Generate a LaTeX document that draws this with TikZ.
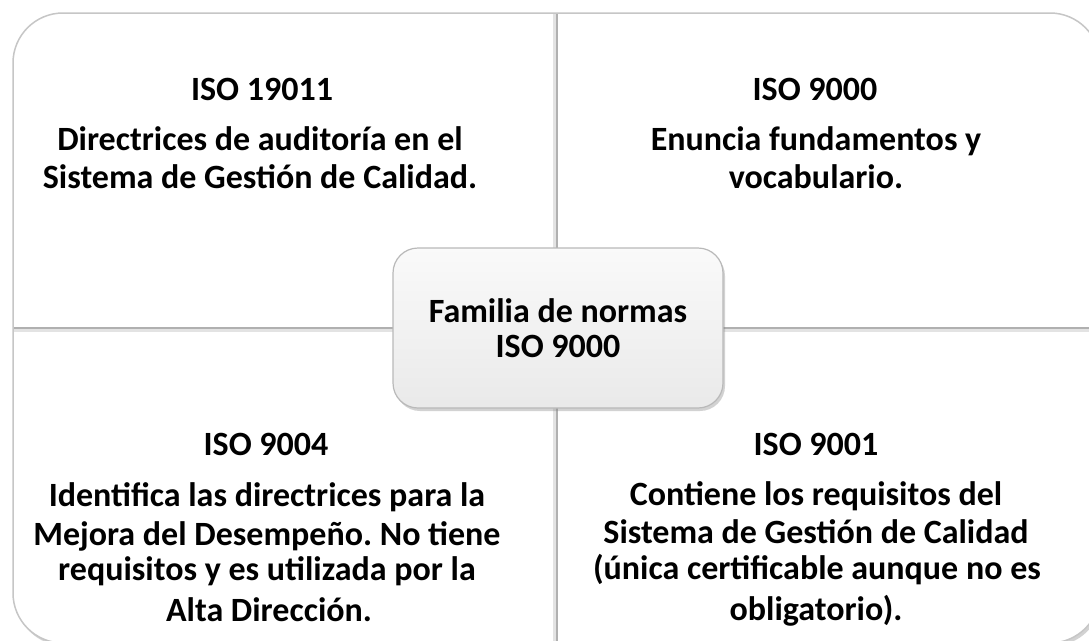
\documentclass[tikz,border=0pt]{standalone}
\usepackage{fontspec}
\setmainfont{Carlito}
\usetikzlibrary{shadows}
\frenchspacing
\begin{document}
\begin{tikzpicture}[x=1pt,y=-1pt,
  txt/.style={anchor=base, inner sep=0pt, text=black,
    font=\fontsize{34}{40}\selectfont\bfseries},
  outerbox/.style={fill=white, draw=gray!45, line width=1.5pt, rounded corners=50pt,
    drop shadow={opacity=.35, shadow xshift=2pt, shadow yshift=-3pt}},
  dividerlight/.style={draw=gray!22, line width=3pt},
  divider/.style={draw=gray!62, line width=1.6pt},
  centerbox/.style={draw=gray!55, line width=1.2pt, rounded corners=25pt,
    top color=gray!4, bottom color=gray!17, minimum width=330pt, minimum height=160pt,
    align=center, inner sep=0pt, text=black,
    font=\fontsize{34}{35}\selectfont\bfseries,
    drop shadow={opacity=.35, shadow xshift=2pt, shadow yshift=-3pt}}
]
\useasboundingbox (0,0) rectangle (1089,640);
\fill[white] (0,0) rectangle (1089,640);
\clip (0,0) rectangle (1089,640);

% outer frame of the four quadrants
\path[outerbox] (13,13) rectangle (1100,643);

% dividers
\coordinate (vtop) at (557,14);
\coordinate (vbot) at (557,642);
\coordinate (hleft) at (14,328);
\coordinate (hright) at (1099,328);
\coordinate (vtopl) at (554.5,14);
\coordinate (vbotl) at (554.5,642);
\coordinate (hleftl) at (14,330.5);
\coordinate (hrightl) at (1099,330.5);
\draw[dividerlight] (vtopl) -- (vbotl);
\draw[dividerlight] (hleftl) -- (hrightl);
\draw[divider] (vtop) -- (vbot);
\draw[divider] (hleft) -- (hright);

% top-left quadrant
\node[txt] (tlt)  at (262,100) {ISO 19011};
\node[txt] (tl1)  at (260,150) {Directrices de auditoría en el};
\node[txt] (tl2)  at (260,188) {Sistema de Gestión de Calidad.};

% top-right quadrant
\node[txt] (trt)  at (815,100) {ISO 9000};
\node[txt] (tr1)  at (816,150) {Enuncia fundamentos y};
\node[txt] (tr2)  at (816,188) {vocabulario.};

% bottom-left quadrant
\node[txt] (blt)  at (266,455) {ISO 9004};
\node[txt] (bl1)  at (267,506) {Identifica las directrices para la};
\node[txt] (bl2)  at (267,545) {Mejora del Desempeño. No tiene};
\node[txt] (bl3)  at (267,580) {requisitos y es utilizada por la};
\node[txt] (bl4)  at (269,621) {Alta Dirección.};

% bottom-right quadrant
\node[txt] (brt)  at (816,455) {ISO 9001};
\node[txt] (br1)  at (816,505) {Contiene los requisitos del};
\node[txt] (br2)  at (816,543) {Sistema de Gestión de Calidad};
\node[txt] (br3)  at (817,579) {(única certificable aunque no es};
\node[txt] (br4)  at (816,620) {obligatorio).};

% centre
\node[centerbox] (c) at (558,328) {Familia de normas\\ISO 9000};
\end{tikzpicture}
\end{document}
